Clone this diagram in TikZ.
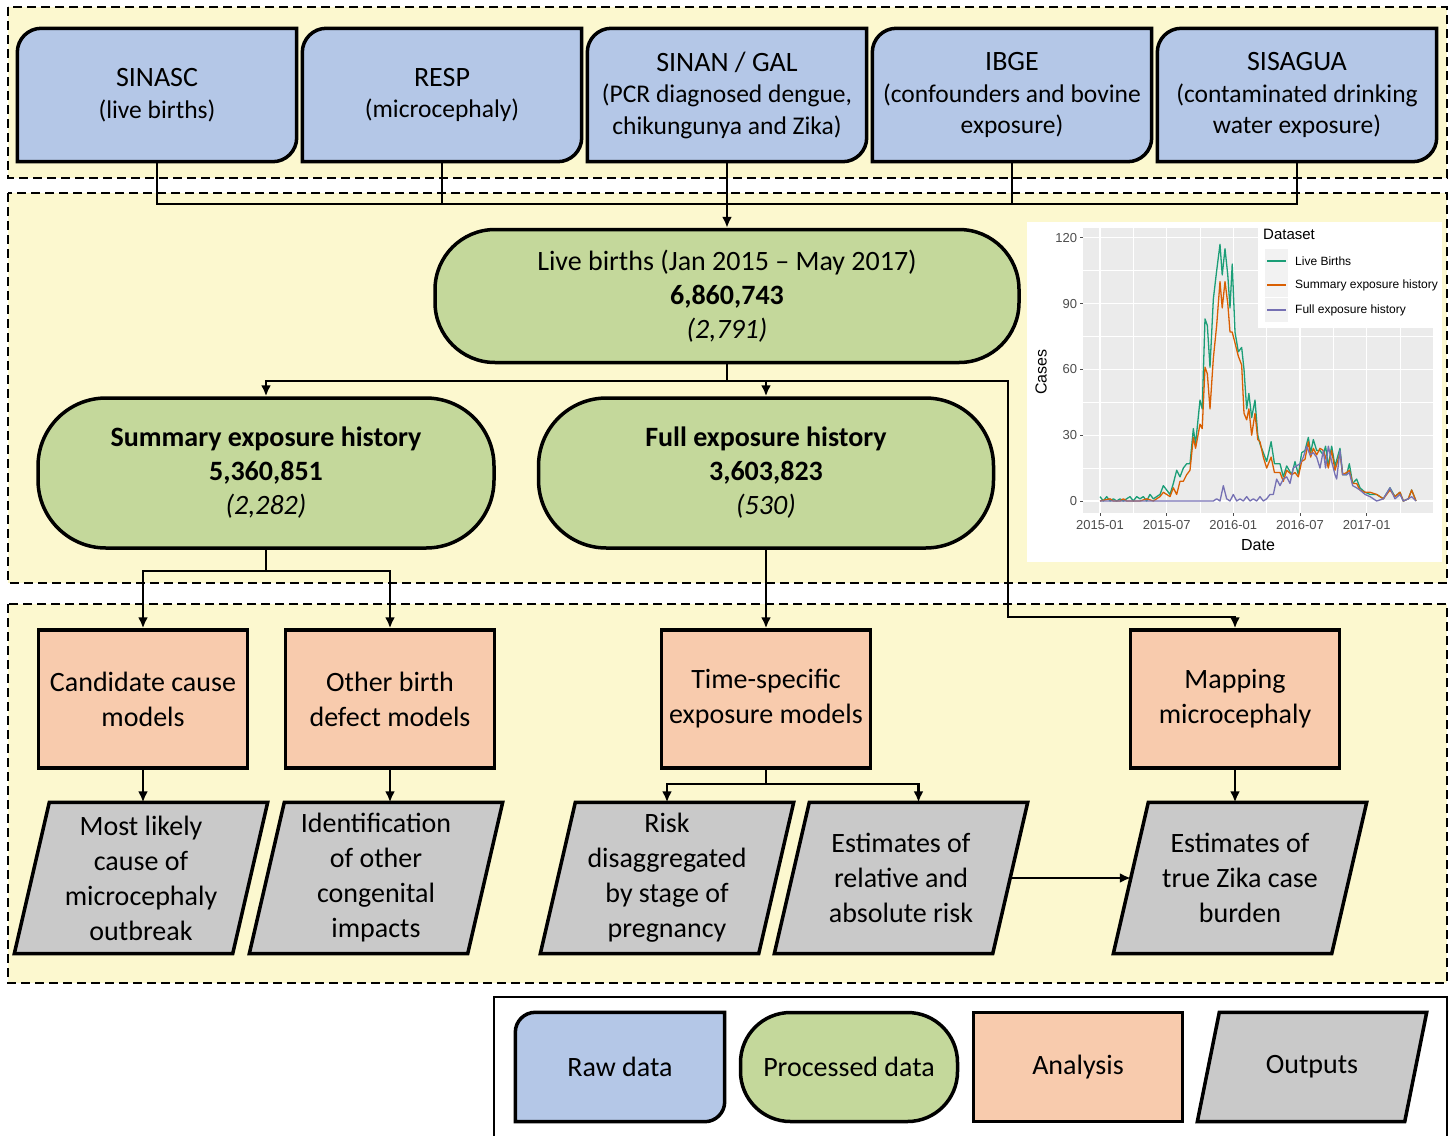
\documentclass[tikz,border=0pt]{standalone}
\usepackage{fontspec}
\setmainfont{Carlito}
\newfontfamily\plotfont{Liberation Sans}
\usetikzlibrary{arrows.meta,positioning,backgrounds,calc}

\definecolor{panelyellow}{HTML}{FCF8CF}
\definecolor{rawblue}{HTML}{B4C7E7}
\definecolor{procgreen}{HTML}{C4D89B}
\definecolor{anaorange}{HTML}{F8CBAD}
\definecolor{outgrey}{HTML}{C9C9C9}
\definecolor{gggrey}{HTML}{EBEBEB}
\definecolor{keygrey}{HTML}{F2F2F2}
\definecolor{tickgrey}{HTML}{4D4D4D}
\definecolor{lbgreen}{HTML}{1B9E77}
\definecolor{seorange}{HTML}{D95F02}
\definecolor{fepurple}{HTML}{7570B3}

\tikzset{
    >={Latex[length=11pt,width=10pt]},
    panel/.style = {draw, dash pattern=on 9pt off 5pt, line width=1.6pt, fill=panelyellow},
    rawbox/.style = {minimum width=279pt, minimum height=133pt, align=center, inner sep=0pt,
                     font=\fontsize{25.5}{31.5}\selectfont},
    rawshape/.style = {draw, line width=3.5pt, fill=rawblue},
    procbox/.style = {draw, line width=3.5pt, fill=procgreen, align=center, inner sep=0pt,
                      font=\fontsize{28}{34}\selectfont},
    anabox/.style = {draw, line width=3.5pt, fill=anaorange, minimum width=209pt, minimum height=138pt,
                     align=center, inner sep=0pt, font=\fontsize{28}{35}\selectfont},
    outbox/.style = {minimum width=218pt, minimum height=151pt, align=center, inner sep=0pt,
                     font=\fontsize{28}{35}\selectfont},
    outshape/.style = {draw, line width=3.5pt, fill=outgrey},
    conn/.style = {line width=2.6pt},
    arrow/.style = {conn, ->},
    ticklab/.style = {font=\plotfont\fontsize{13}{15}\selectfont, text=tickgrey, inner sep=2.5pt},
    keylab/.style = {font=\plotfont\fontsize{12}{14}\selectfont, anchor=west, inner sep=0pt}
}

\begin{document}
\begin{tikzpicture}[x=1pt, y=1pt]
\useasboundingbox (0,0) rectangle (1455,-1135);

% Panels
\begin{scope}[on background layer]
  \draw[panel] (8,-7) rectangle (1447,-178);
  \draw[panel] (8,-193) rectangle (1447,-583);
  \draw[panel] (8,-604) rectangle (1447,-983);
  \draw[line width=2pt, fill=white] (494,-997) rectangle (1447,-1145);
\end{scope}

% Raw data
\node[rawbox] (sinasc) at (157,-95) {{\fontsize{28}{31.5}\selectfont SINASC}\\(live births)};
\node[rawbox] (resp) at (442,-95) {{\fontsize{28}{31.5}\selectfont RESP}\\(microcephaly)};
\node[rawbox] (sinan) at (727,-95) {{\fontsize{28}{31.5}\selectfont SINAN / GAL}\\(PCR diagnosed dengue,\\chikungunya and Zika)};
\node[rawbox] (ibge) at (1012,-95) {{\fontsize{28}{31.5}\selectfont IBGE}\\(confounders and bovine\\exposure)};
\node[rawbox] (sisagua) at (1297,-95) {{\fontsize{28}{31.5}\selectfont SISAGUA}\\(contaminated drinking\\water exposure)};

% Processed data
\node[procbox, minimum width=584pt, minimum height=133pt, rounded corners=60pt] (births) at (727,-296)
  {Live births (Jan 2015 – May 2017)\\\textbf{6,860,743}\\\textit{(2,791)}};
\node[procbox, minimum width=456pt, minimum height=150pt, rounded corners=68pt] (summary) at (266,-473)
  {\textbf{Summary exposure history}\\\textbf{5,360,851}\\\textit{(2,282)}};
\node[procbox, minimum width=455pt, minimum height=150pt, rounded corners=68pt] (full) at (766,-473)
  {\textbf{Full exposure history}\\\textbf{3,603,823}\\\textit{(530)}};

% Analysis
\node[anabox] (candidate) at (143,-699) {Candidate cause\\models};
\node[anabox] (other) at (390,-699) {Other birth\\defect models};
\node[anabox] (timespec) at (766,-699) {Time-specific\\exposure models};
\node[anabox] (mapping) at (1235,-699) {Mapping\\microcephaly};

% Outputs
\node[outbox] (likely) at (141,-878) {Most likely\\cause of\\microcephaly\\outbreak};
\node[outbox] (congenital) at (376,-878) {Identification\\of other\\congenital\\impacts};
\node[outbox] (riskstage) at (667,-878) {Risk\\disaggregated\\by stage of\\pregnancy};
\node[outbox] (riskest) at (901,-878) {Estimates of\\relative and\\absolute risk};
\node[outbox] (zika) at (1240,-878) {Estimates of\\true Zika case\\burden};

% Legend
\node[rawbox, minimum width=209pt, minimum height=109pt, font=\fontsize{28}{34}\selectfont] (keyraw) at (620,-1067) {Raw data};
\node[procbox, minimum width=217pt, minimum height=109pt, rounded corners=50pt] (keyproc) at (849,-1067) {Processed data};
\node[anabox, minimum height=109pt] (keyana) at (1078,-1067) {Analysis};
\node[outbox, minimum width=207pt, minimum height=109pt] (keyout) at (1312,-1067) {Outputs};

\begin{scope}[on background layer]
  \foreach \n/\r in {sinasc/24pt, resp/24pt, sinan/24pt, ibge/24pt, sisagua/24pt, keyraw/20pt}
    \draw[rawshape] (\n.south west) -- ([yshift=-\r]\n.north west)
      arc[start angle=180, end angle=90, radius=\r] -- (\n.north east)
      -- ([yshift=\r]\n.south east) arc[start angle=0, end angle=-90, radius=\r] -- cycle;
  \foreach \n/\s in {likely/17.5pt, congenital/17.5pt, riskstage/17.5pt, riskest/17.5pt, zika/17.5pt, keyout/11pt}
    \draw[outshape] ([xshift=-\s]\n.south west) -- ([xshift=\s]\n.north west)
      -- ([xshift=\s]\n.north east) -- ([xshift=-\s]\n.south east) -- cycle;
\end{scope}

% Connectors
\coordinate (bus) at (727,-204);
\coordinate (split1) at (727,-381);
\coordinate (bend) at (1008,-617);
\coordinate (split2) at (266,-571);
\coordinate (split3) at (766,-784);

\draw[conn] (sinasc.south) |- (bus) -| (sisagua.south);
\draw[conn] (resp.south) -- (resp.south |- bus);
\draw[conn] (ibge.south) -- (ibge.south |- bus);
\draw[arrow] (sinan.south) -- (births.north);

\draw[conn] (births.south) -- (split1);
\draw[arrow] (split1) -| (summary.north);
\draw[arrow] (split1) -| (full.north);
\draw[arrow] (split1) -| (bend) -| (mapping.north);

\draw[conn] (summary.south) -- (split2);
\draw[arrow] (split2) -| (candidate.north);
\draw[arrow] (split2) -| (other.north);
\draw[arrow] (full.south) -- (timespec.north);

\draw[arrow] (candidate.south) -- (candidate.south |- likely.north);
\draw[arrow] (other.south) -- (other.south |- congenital.north);
\draw[conn] (timespec.south) -- (split3);
\draw[arrow] (split3) -| (riskstage.north);
\draw[arrow] (split3) -| ([xshift=17.5pt]riskest.north);
\draw[arrow] (mapping.south) -- (mapping.south |- zika.north);
\draw[arrow] (riskest.east) -- (zika.west);

% Chart
\fill[white] (1027,-222) rectangle (1442,-562);
\fill[gggrey] (1083,-228) rectangle (1433,-513);
\begin{scope}[shift={(1100,-501)}, x=11.11pt, y=2.194pt]
  \foreach \v in {15,45,75,105}
    \draw[white, line width=0.5pt] (-1.53,\v) -- (29.97,\v);
  \foreach \m in {3,9,15,21,27}
    \draw[white, line width=0.5pt] (\m,-5.5) -- (\m,124.4);
  \foreach \v in {0,30,60,90,120} {
    \draw[white, line width=1.1pt] (-1.53,\v) -- (29.97,\v);
    \draw[tickgrey, line width=0.8pt] (-1.53,\v) -- ++(-3pt,0) node[ticklab, left] (ytick\v) {\v};
  }
  \foreach \m/\lab in {0/2015-01, 6/2015-07, 12/2016-01, 18/2016-07, 24/2017-01} {
    \draw[white, line width=1.1pt] (\m,-5.5) -- (\m,124.4);
    \draw[tickgrey, line width=0.8pt] (\m,-5.5) -- ++(0,-3pt) node[ticklab, below, inner sep=4pt] (xtick\m) {\lab};
  }
  \draw[lbgreen, line width=1.3pt, line join=round] plot coordinates {
    (0,2)(0.3,0)(0.6,2)(0.9,0)(1.2,1)(1.5,0)(1.8,1)(2.1,0)(2.4,1)(2.7,2)(3.0,0)(3.3,2)(3.6,1)
    (3.9,2)(4.2,0)(4.5,3)(4.8,1)(5.1,2)(5.4,3)(5.7,7)(6.0,5)(6.3,3)(6.6,8)(6.9,14)(7.2,11)
    (7.5,15)(7.8,17)(8.1,17)(8.4,33)(8.6,26)(9.0,46)(9.2,42)(9.45,83)(9.66,80)(9.9,61)
    (10.2,92)(10.5,105)(10.8,117)(11.0,103)(11.25,115)(11.5,103)(11.7,88)(11.9,108)
    (12.15,77)(12.45,68)(12.75,70)(12.96,60)(13.2,42)(13.4,49)(13.65,38)(13.95,46)(14.2,30)
    (14.4,26)(14.7,22)(15.0,18)(15.4,27)(15.7,17)(16.2,17)(16.5,11)(16.8,16)(17.25,12)
    (17.55,18)(17.85,12)(18.15,22)(18.45,23)(18.75,29)(18.96,22)(19.2,28)(19.5,23)(19.8,23)
    (20.1,21)(20.3,25)(20.55,16)(20.85,25)(21.15,16)(21.6,24)(21.84,12)(22.2,12)(22.44,17)
    (22.74,8)(23.1,10)(23.4,6)(23.85,4)(24.3,3)(24.9,3)(25.5,1)(26.1,6)(26.55,2)(27.0,4)
    (27.3,0)(27.75,1)(28.05,5)(28.44,0)};
  \draw[seorange, line width=1.3pt, line join=round] plot coordinates {
    (0,0)(0.9,1)(1.2,0)(1.8,0)(2.1,1)(2.4,0)(3.0,0)(3.6,0)(4.2,1)(4.8,0)(5.4,2)(5.7,4)(6.0,3)
    (6.3,2)(6.6,6)(6.9,3)(7.2,9)(7.5,9)(7.8,12)(8.1,14)(8.4,29)(8.6,24)(9.0,35)(9.2,33)
    (9.45,61)(9.66,58)(9.9,42)(10.2,65)(10.5,80)(10.8,100)(11.0,88)(11.25,100)(11.5,90)
    (11.7,77)(11.9,77)(12.15,72)(12.45,66)(12.75,62)(12.96,40)(13.2,37)(13.4,42)(13.65,30)
    (13.95,40)(14.2,28)(14.4,27)(14.7,20)(15.0,15)(15.4,20)(15.7,13)(16.2,13)(16.5,9)
    (16.8,14)(17.25,12)(17.55,13)(17.85,11)(18.15,18)(18.45,19)(18.75,27)(18.96,20)(19.2,24)
    (19.5,21)(19.8,24)(20.1,23)(20.3,20)(20.55,15)(20.85,23)(21.15,14)(21.6,22)(21.84,12)
    (22.2,13)(22.44,14)(22.74,8)(23.1,8)(23.4,5)(23.85,4)(24.3,4)(24.9,3)(25.5,1)(26.1,5)
    (26.55,2)(27.0,4)(27.3,0)(27.75,1)(28.05,5)(28.44,0)};
  \draw[fepurple, line width=1.3pt, line join=round] plot coordinates {
    (0,0)(10.2,0)(10.5,1)(10.8,0)(11.1,7)(11.4,1)(11.7,0)(12.0,3)(12.3,0)(12.6,1)(12.9,0)
    (13.2,2)(13.5,0)(13.8,1)(14.1,0)(14.4,2)(14.7,0)(15.0,1)(15.3,3)(15.6,3)(15.9,10)(16.2,7)
    (16.5,10)(16.8,11)(17.1,8)(17.4,15)(17.7,16)(18.0,17)(18.3,20)(18.6,25)(18.9,21)(19.2,22)
    (19.5,20)(19.8,15)(20.1,23)(20.3,15)(20.55,25)(20.85,18)(21.15,12)(21.3,10)(21.6,23)
    (21.84,12)(22.2,12)(22.44,13)(22.74,7)(23.1,6)(23.4,5)(23.85,3)(24.3,2)(24.9,0)(25.5,1)
    (26.1,6)(26.55,1)(27.0,3)(27.3,0)(27.75,1)(28.05,2)(28.44,0)};
\end{scope}
\node[font=\plotfont\fontsize{16}{18}\selectfont, rotate=90] (casestitle) at (1041,-372) {Cases};
\node[font=\plotfont\fontsize{16}{18}\selectfont] (datetitle) at (1258,-545) {Date};

% Chart legend
\fill[white] (1258,-224) rectangle (1442,-328);
\node[font=\plotfont\fontsize{15}{17}\selectfont, anchor=west, inner sep=0pt] (dataset) at (1263,-234) {Dataset};
\foreach \row/\col/\lab in {261/lbgreen/Live Births, 285/seorange/Summary exposure history,
                            310/fepurple/Full exposure history} {
  \fill[keygrey] (1265,-\row+12) rectangle (1288,-\row-12);
  \draw[\col, line width=1.3pt] (1267,-\row) -- (1286,-\row);
  \node[keylab] (key\row) at (1295,-\row) {\lab};
}
\end{tikzpicture}
\end{document}
